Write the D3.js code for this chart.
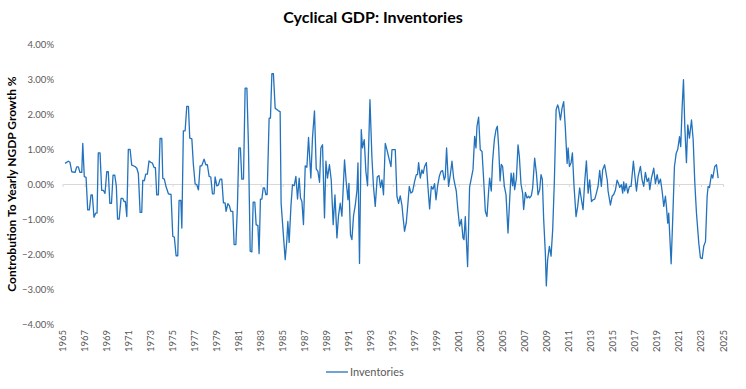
<!DOCTYPE html>
<html>
<head>
<meta charset="utf-8">
<script src="https://cdn.jsdelivr.net/npm/d3@7"></script>
<style>
  body { margin: 0; background: #fff; }
  text { font-family: Lato, 'Open Sans', sans-serif; }
</style>
</head>
<body>
<div id="chart"></div>
<script>
// decimal years
const dates = [
  1965.23, 1965.53, 1965.68, 1965.84, 1966.14, 1966.29, 1966.44, 1966.59, 1966.75, 1966.84,
  1966.98, 1967.14, 1967.29, 1967.44, 1967.59, 1967.71, 1967.86, 1968.02, 1968.14, 1968.25,
  1968.41, 1968.56, 1968.71, 1968.86, 1969.02, 1969.16, 1969.30, 1969.45, 1969.59, 1969.75,
  1969.89, 1970.00, 1970.15, 1970.32, 1970.47, 1970.59, 1970.71, 1970.84, 1970.98, 1971.14,
  1971.29, 1971.59, 1971.75, 1971.89, 1972.05, 1972.20, 1972.29, 1972.44, 1972.56, 1972.71,
  1972.86, 1973.02, 1973.16, 1973.32, 1973.44, 1973.56, 1973.71, 1973.86, 1974.02, 1974.11,
  1974.25, 1974.41, 1974.62, 1974.86, 1975.02, 1975.16, 1975.32, 1975.47, 1975.59, 1975.75,
  1975.84, 1975.98, 1976.14, 1976.29, 1976.44, 1976.56, 1976.75, 1976.89, 1977.05, 1977.20,
  1977.35, 1977.50, 1977.65, 1977.86, 1978.02, 1978.16, 1978.32, 1978.47, 1978.62, 1978.77,
  1978.86, 1979.02, 1979.16, 1979.32, 1979.47, 1979.62, 1979.77, 1979.86, 1980.02, 1980.16,
  1980.29, 1980.47, 1980.59, 1980.75, 1980.89, 1981.02, 1981.16, 1981.29, 1981.44, 1981.59,
  1981.75, 1981.89, 1982.05, 1982.20, 1982.32, 1982.47, 1982.59, 1982.75, 1982.86, 1982.98,
  1983.11, 1983.23, 1983.35, 1983.47, 1983.59, 1983.77, 1983.89, 1984.02, 1984.16, 1984.32,
  1984.47, 1984.62, 1984.77, 1984.86, 1985.05, 1985.23, 1985.38, 1985.47, 1985.59, 1985.75,
  1985.89, 1986.05, 1986.20, 1986.35, 1986.50, 1986.62, 1986.75, 1986.89, 1987.05, 1987.20,
  1987.35, 1987.56, 1987.71, 1987.89, 1988.05, 1988.20, 1988.35, 1988.47, 1988.62, 1988.80,
  1988.93, 1989.07, 1989.25, 1989.41, 1989.59, 1989.75, 1989.93, 1990.07, 1990.23, 1990.38,
  1990.62, 1990.77, 1990.93, 1991.02, 1991.16, 1991.29, 1991.44, 1991.59, 1991.75, 1991.84,
  1991.98, 1992.14, 1992.25, 1992.41, 1992.56, 1992.71, 1992.93, 1993.11, 1993.25, 1993.41,
  1993.59, 1993.75, 1993.89, 1994.02, 1994.16, 1994.32, 1994.47, 1994.65, 1994.84, 1994.93,
  1995.07, 1995.23, 1995.38, 1995.53, 1995.68, 1995.84, 1995.93, 1996.07, 1996.23, 1996.38,
  1996.50, 1996.65, 1996.80, 1996.98, 1997.14, 1997.25, 1997.35, 1997.50, 1997.65, 1997.77,
  1997.89, 1998.05, 1998.20, 1998.35, 1998.50, 1998.65, 1998.80, 1998.93, 1999.07, 1999.23,
  1999.38, 1999.53, 1999.68, 1999.77, 1999.89, 2000.07, 2000.23, 2000.38, 2000.53, 2000.68,
  2000.77, 2000.93, 2001.07, 2001.23, 2001.38, 2001.47, 2001.59, 2001.80, 2001.98, 2002.14,
  2002.29, 2002.44, 2002.56, 2002.65, 2002.80, 2002.95, 2003.11, 2003.25, 2003.41, 2003.56,
  2003.71, 2003.80, 2003.95, 2004.07, 2004.23, 2004.38, 2004.50, 2004.62, 2004.75, 2004.86,
  2004.98, 2005.14, 2005.29, 2005.47, 2005.62, 2005.75, 2005.89, 2005.98, 2006.07, 2006.23,
  2006.38, 2006.50, 2006.65, 2006.80, 2006.89, 2007.05, 2007.20, 2007.35, 2007.44, 2007.59,
  2007.71, 2007.89, 2008.05, 2008.20, 2008.35, 2008.47, 2008.59, 2008.71, 2008.86, 2008.95,
  2009.07, 2009.23, 2009.38, 2009.53, 2009.68, 2009.84, 2009.98, 2010.07, 2010.23, 2010.38,
  2010.53, 2010.68, 2010.84, 2010.93, 2011.05, 2011.20, 2011.32, 2011.47, 2011.65, 2011.80,
  2011.98, 2012.14, 2012.29, 2012.44, 2012.59, 2012.75, 2012.89, 2013.05, 2013.20, 2013.35,
  2013.50, 2013.65, 2013.80, 2013.95, 2014.07, 2014.25, 2014.49, 2014.56, 2014.77, 2014.93,
  2015.07, 2015.23, 2015.38, 2015.50, 2015.62, 2015.77, 2015.89, 2015.98, 2016.07, 2016.20,
  2016.35, 2016.50, 2016.65, 2016.86, 2016.98, 2017.14, 2017.29, 2017.50, 2017.65, 2017.80,
  2017.95, 2018.11, 2018.25, 2018.35, 2018.50, 2018.71, 2018.86, 2019.02, 2019.16, 2019.32,
  2019.47, 2019.62, 2019.77, 2019.86, 2019.98, 2020.07, 2020.16, 2020.29, 2020.44, 2020.59,
  2020.75, 2020.89, 2021.05, 2021.16, 2021.29, 2021.41, 2021.53, 2021.68, 2021.80, 2021.95,
  2022.14, 2022.29, 2022.44, 2022.59, 2022.80, 2022.95, 2023.11, 2023.25, 2023.41, 2023.56,
  2023.65, 2023.77, 2023.95, 2024.07, 2024.25, 2024.41, 2024.56
]

// contribution to yearly NGDP growth, in %
const inventories = [
  0.59, 0.65, 0.62, 0.35, 0.33, 0.49, 0.49, 0.33, 0.33, 1.16,
  0.21, 0.19, -0.74, -0.74, -0.31, -0.31, -0.95, -0.83, -0.83, 0.89,
  0.89, -0.18, -0.18, -0.27, 0.35, 0.35, -0.55, -0.55, 0.25, 0.25,
  -0.06, -1.0, -1.0, -0.41, -0.41, -0.5, -0.5, -0.93, 0.99, 0.99,
  0.54, 0.5, 0.45, 0.30, -0.81, -0.81, 0.1, 0.1, 0.28, 0.28,
  0.66, 0.62, 0.6, 0.47, 0.47, -0.31, -0.31, 1.30, 1.30, 0.16,
  0.14, -0.08, -0.28, -0.3, -1.5, -1.52, -2.05, -2.05, -0.47, -0.47,
  -1.26, 1.52, 1.52, 2.22, 2.22, 1.31, 1.29, 0.55, 0.0, -0.02,
  -0.17, 0.52, 0.52, 0.71, 0.55, 0.55, 0.22, 0.2, -0.28, -0.28,
  0.2, -0.05, -0.03, 0.14, 0.14, -0.54, -0.54, -0.78, -0.56, -0.62,
  -0.78, -0.78, -1.73, -1.73, -0.64, 1.03, 1.03, 0.14, 0.14, 2.74,
  2.74, 1.12, -1.92, -1.94, -0.52, -0.52, -1.16, -1.19, -1.99, -0.43,
  -0.43, -0.11, -0.11, -0.3, -0.3, 1.88, 1.88, 3.15, 3.15, 2.16,
  2.13, 2.09, 2.07, -0.55, -1.39, -2.16, -1.6, -1.07, -1.67, -0.64,
  -0.02, -0.05, 0.22, -0.43, 0.17, -0.4, -0.5, -1.16, 0.52, 0.48,
  1.33, 0.17, 1.33, 2.09, 0.43, 0.36, 0.05, 1.03, 1.12, -0.97,
  0.65, 0.17, 0.55, 0.12, -1.16, -0.31, -1.54, -0.92, -0.55, -0.92,
  0.69, 0.07, -0.45, 0.02, -1.45, -1.59, -0.9, -0.62, -0.18, 0.6,
  -2.27, 1.55, 1.03, 1.27, 0.36, -0.05, 2.41, 0.74, -0.07, -0.64,
  0.2, 0.24, -0.1, 0.12, -0.31, 1.16, 0.98, 0.74, 0.5, 0.98,
  0.98, 0.98, -0.35, -0.55, -0.34, -0.62, -0.93, -1.35, -1.1, -0.55,
  -0.07, -0.26, -0.22, 0.07, 0.27, 0.27, 0.61, 0.17, 0.4, 0.3,
  0.5, 0.61, -0.1, -0.71, -0.07, -0.15, 0.01, -0.45, -0.07, 0.22,
  0.36, 0.38, 0.12, 0.2, 1.03, -0.07, 0.27, 0.65, 0.17, -0.07,
  -0.2, -0.78, -1.2, -1.01, -1.54, -1.59, -0.93, -2.36, -0.09, 0.17,
  0.41, 1.36, 1.03, 1.65, 1.91, 0.98, 0.93, 0.17, -0.78, -0.93,
  -0.2, 0.17, -0.2, 0.65, 1.27, 1.55, 1.65, 1.07, 0.09, 0.56,
  0.5, -0.07, -0.31, -1.4, -0.45, 0.31, -0.05, 0.31, -0.16, 0.15,
  1.12, 0.79, 0.0, -0.26, -0.73, -0.24, -0.4, -0.35, -0.4, -0.33,
  -0.11, 0.74, 0.31, -0.31, -0.16, 0.27, 0.13, -1.01, -1.96, -2.91,
  -2.16, -1.78, -2.06, -1.3, 0.07, 2.12, 2.26, 2.17, 1.83, 2.17,
  2.35, 1.59, 0.59, 1.03, 0.5, 0.61, 0.89, -0.07, -0.93, -0.64,
  -0.11, -0.45, -0.73, 0.07, 0.66, -0.26, 0.12, -0.5, -0.45, -0.43,
  -0.26, -0.07, 0.39, -0.07, 0.41, 0.55, 0.1, -0.2, -0.6, -0.35,
  -0.3, -0.17, 0.11, 0.02, -0.1, -0.02, -0.26, 0.06, -0.2, 0.01,
  -0.26, -0.07, -0.07, 0.65, 0.27, -0.2, 0.22, 0.5, 0.12, -0.07,
  0.33, 0.07, 0.17, -0.16, 0.17, 0.45, 0.01, 0.27, 0.01, 0.14,
  -0.2, -0.64, -0.35, -0.64, -1.12, -0.83, -1.45, -2.28, -0.93, 0.5,
  0.88, 0.99, 1.35, 1.07, 2.21, 2.98, 1.64, 0.61, 1.69, 1.31,
  1.83, 1.27, 0.03, -0.83, -1.69, -2.11, -2.13, -1.78, -1.64, -0.35,
  -0.07, -0.1, 0.27, 0.17, 0.5, 0.55, 0.17
]

const yTicks = [-4, -3, -2, -1, 0, 1, 2, 3, 4]
const xTickYears = d3.range(1965, 2026, 2)

const width = 746
const height = 389
const margin = { top: 44, right: 23, bottom: 65, left: 62.5 }

const svg = d3
  .select('#chart')
  .append('svg')
  .attr('width', width)
  .attr('height', height)

const xScale = d3.scaleLinear().domain([1965, 2025]).range([margin.left, width - margin.right])
const yScale = d3.scaleLinear().domain([-4, 4]).range([height - margin.bottom, margin.top])

const data = dates.map((d, i) => ({ date: d, value: inventories[i] }))

// title
svg.append('text')
  .attr('x', width / 2)
  .attr('y', 23)
  .attr('text-anchor', 'middle')
  .attr('font-size', 16)
  .attr('font-weight', 'bold')
  .attr('fill', '#000')
  .text('Cyclical GDP: Inventories')

// y axis labels
const yAxis = d3.axisLeft(yScale)
  .tickValues(yTicks)
  .tickSize(0)
  .tickPadding(0)
  .tickFormat(d => d3.format('.2f')(d) + '%')

svg.append('g')
  .attr('transform', 'translate(54,0)')
  .call(yAxis)
  .call(g => g.select('.domain').remove())
  .call(g => g.selectAll('text')
    .attr('font-family', 'Lato, sans-serif')
    .attr('font-size', 9.5)
    .attr('fill', '#595959'))

// y axis title
svg.append('text')
  .attr('transform', 'translate(16,' + yScale(0) + ')rotate(-90)')
  .attr('text-anchor', 'middle')
  .attr('font-size', 12)
  .attr('font-weight', 'bold')
  .attr('fill', '#000')
  .text('Controbution To Yearly NGDP Growth %')

// zero axis line with small ticks
const xAxis = d3.axisBottom(xScale)
  .tickValues(xTickYears)
  .tickSize(3)
  .tickSizeOuter(0)
  .tickFormat('')

svg.append('g')
  .attr('transform', 'translate(0,' + yScale(0) + ')')
  .call(xAxis)
  .call(g => g.select('.domain').attr('stroke', '#d9d9d9'))
  .call(g => g.selectAll('.tick line').attr('stroke', '#d9d9d9'))

// year labels at the bottom
svg.append('g')
  .selectAll('.year')
  .data(xTickYears)
  .enter()
  .append('text')
  .attr('class', 'year')
  .attr('transform', d => `translate(${xScale(d) + 3.5},${yScale(-4) + 6})rotate(-90)`)
  .attr('text-anchor', 'end')
  .attr('font-size', 9.5)
  .attr('fill', '#595959')
  .text(d => d)

// the line
const line = d3.line()
  .x(d => xScale(d.date))
  .y(d => yScale(d.value))

svg.append('path')
  .datum(data)
  .attr('fill', 'none')
  .attr('stroke', '#2272BD')
  .attr('stroke-width', 1.3)
  .attr('stroke-linejoin', 'round')
  .attr('d', line)

// legend
const legend = svg.append('g').attr('transform', 'translate(326,372)')
legend.append('line')
  .attr('x1', 0)
  .attr('x2', 22)
  .attr('stroke', '#2272BD')
  .attr('stroke-width', 1.3)
legend.append('text')
  .attr('x', 24)
  .attr('y', 4)
  .attr('font-size', 11)
  .attr('fill', '#595959')
  .text('Inventories')
</script>
</body>
</html>
